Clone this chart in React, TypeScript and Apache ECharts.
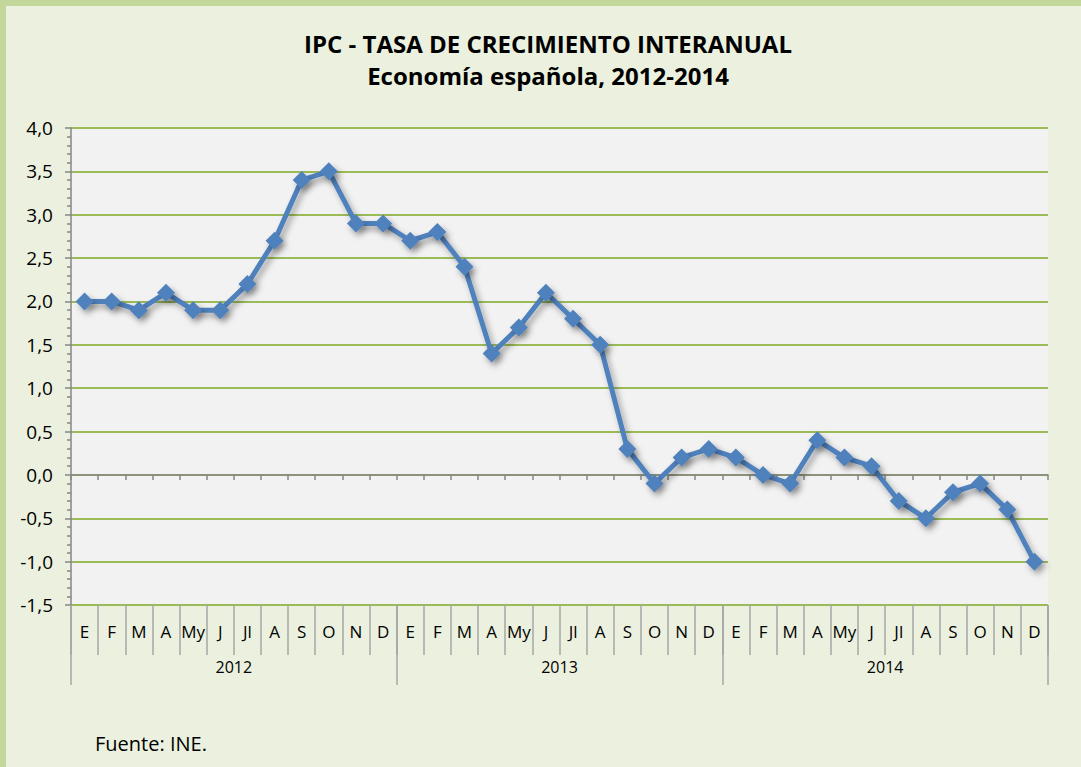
import React, { useEffect, useRef } from "react";
import * as echarts from "echarts";

const months = ["E", "F", "M", "A", "My", "J", "Jl", "A", "S", "O", "N", "D"];
const years = ["2012", "2013", "2014"];
const categories: string[] = years.flatMap((y) => months.map((m) => m));
const ipc2012 = [2.0, 2.0, 1.9, 2.1, 1.9, 1.9, 2.2, 2.7, 3.4, 3.5, 2.9, 2.9];
const ipc2013 = [2.7, 2.8, 2.4, 1.4, 1.7, 2.1, 1.8, 1.5, 0.3, -0.1, 0.2, 0.3];
const ipc2014 = [0.2, 0.0, -0.1, 0.4, 0.2, 0.1, -0.3, -0.5, -0.2, -0.1, -0.4, -1.0];
const values = [...ipc2012, ...ipc2013, ...ipc2014];
const yMin = -1.5;
const yMax = 4.0;
const yStep = 0.5;

const FONT = "'Open Sans', 'Noto Sans', sans-serif";

export default function App() {
  const ref = useRef<HTMLDivElement>(null);
  useEffect(() => {
    document.body.style.margin = "0";
    const chart = echarts.init(ref.current!, undefined, { renderer: "svg" });
    chart.setOption({
      animation: false,
      backgroundColor: "#EBF1DE",
      textStyle: { fontFamily: FONT },
      grid: {
        left: 71,
        right: 33,
        top: 128,
        bottom: 162,
        show: true,
        backgroundColor: "#F2F2F2",
        borderWidth: 0,
      },
      graphic: [
        { type: "rect", shape: { x: 0, y: 0, width: 6, height: 767 }, style: { fill: "#C4D79B" } },
        { type: "rect", shape: { x: 0, y: 0, width: 1081, height: 6 }, style: { fill: "#C4D79B" } },
        {
          type: "text",
          style: {
            x: 548, y: 43, text: "IPC - TASA DE CRECIMIENTO INTERANUAL",
            align: "center", verticalAlign: "middle",
            font: `bold 24px ${FONT}`, fill: "#000",
          },
        },
        {
          type: "text",
          style: {
            x: 548, y: 75, text: "Economía española, 2012-2014",
            align: "center", verticalAlign: "middle",
            font: `bold 24px ${FONT}`, fill: "#000",
          },
        },
        {
          type: "text",
          style: {
            x: 95, y: 743, text: "Fuente: INE.",
            align: "left", verticalAlign: "middle",
            font: `20px ${FONT}`, fill: "#000",
          },
        },
      ],
      xAxis: [
        {
          type: "category",
          data: categories,
          position: "bottom",
          boundaryGap: true,
          axisLine: { show: false, onZero: false },
          axisTick: { show: true, length: 50, lineStyle: { color: "#A6A6A6", width: 1.5 } },
          axisLabel: { color: "#000", fontSize: 17, margin: 18, interval: 0, fontFamily: FONT },
          splitLine: { show: false },
        },
        {
          type: "category",
          data: years,
          position: "bottom",
          boundaryGap: true,
          axisLine: { show: false, onZero: false },
          axisTick: { show: true, length: 80, lineStyle: { color: "#A6A6A6", width: 1.5 } },
          axisLabel: { color: "#000", fontSize: 16, margin: 54, fontFamily: FONT },
          splitLine: { show: false },
        },
        {
          type: "category",
          data: categories,
          position: "bottom",
          boundaryGap: true,
          axisLine: { show: true, onZero: true, onZeroAxisIndex: 0, lineStyle: { color: "#868686", width: 1.5 } },
          axisTick: { show: true, length: 5, lineStyle: { color: "#868686", width: 1.5 } },
          axisLabel: { show: false },
          splitLine: { show: false },
        },
      ],
      yAxis: {
        type: "value",
        min: yMin,
        max: yMax,
        interval: yStep,
        axisLine: { show: true, lineStyle: { color: "#868686", width: 1.5 } },
        axisTick: { show: true, length: 6, lineStyle: { color: "#868686", width: 1.5 } },
        minorTick: { show: true, splitNumber: 5, length: 4, lineStyle: { color: "#868686", width: 1.5 } },
        axisLabel: {
          color: "#000",
          fontSize: 19,
          margin: 18,
          fontFamily: FONT,
          formatter: (v: number) => v.toFixed(1).replace(".", ","),
        },
        splitLine: { show: true, lineStyle: { color: "#9BBB59", width: 2 } },
      },
      series: [
        {
          type: "line",
          data: values,
          xAxisIndex: 0,
          symbol: "diamond",
          symbolSize: 18,
          color: "#4F81BD",
          lineStyle: {
            color: "#4F81BD",
            width: 5,
            shadowBlur: 6,
            shadowOffsetX: 3,
            shadowOffsetY: 4,
            shadowColor: "rgba(0,0,0,0.35)",
          },
          itemStyle: {
            color: "#4F81BD",
            shadowBlur: 6,
            shadowOffsetX: 3,
            shadowOffsetY: 4,
            shadowColor: "rgba(0,0,0,0.35)",
          },
        },
      ],
    });
    return () => chart.dispose();
  }, []);
  return (
    <div
      ref={ref}
      style={{ position: "absolute", left: 0, top: 0, width: 1081, height: 767 }}
    />
  );
}
